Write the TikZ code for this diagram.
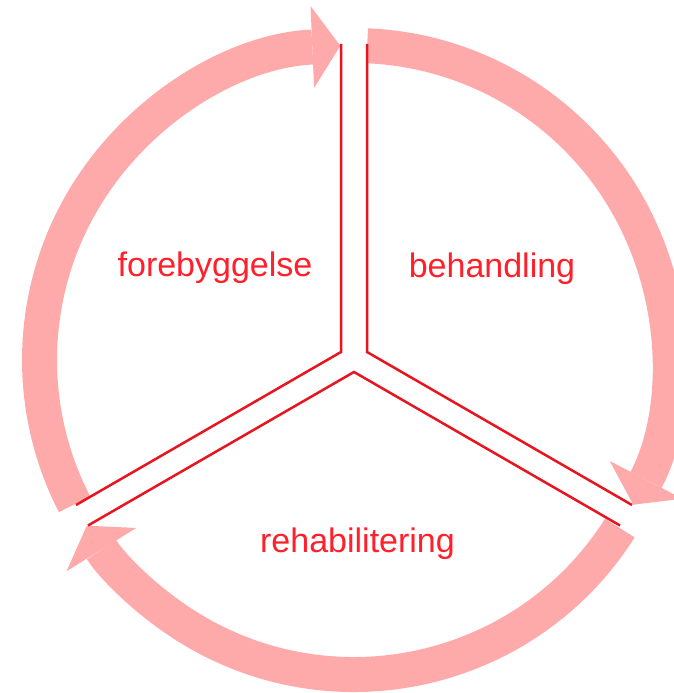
\documentclass[tikz,border=0pt]{standalone}
\usepackage{fontspec}
\setmainfont{Liberation Sans}
\usetikzlibrary{arrows.meta}
\definecolor{arcpink}{RGB}{255,170,170}
\definecolor{linered}{RGB}{232,20,32}
\definecolor{textred}{RGB}{255,32,44}
\tikzset{
  cyclearc/.style={draw=arcpink, line width=35pt, line cap=butt,
    -{Triangle[length=28pt,width=82pt,line width=0pt]}},
  sepline/.style={draw=linered, line width=2.5pt, line join=miter},
  phase/.style={text=textred, anchor=base, inner sep=0pt,
    font=\fontsize{34}{40}\selectfont}
}
\begin{document}
\begin{tikzpicture}[x=1pt,y=1pt]
\useasboundingbox (0,0) rectangle (674,693);
\coordinate (O) at (354,333);
% separator lines
\coordinate (la) at (341,649);
\coordinate (lb) at (341,341);
\coordinate (lc) at (76,188);
\coordinate (ra) at (367,649);
\coordinate (rb) at (367,341);
\coordinate (rc) at (632,188);
\coordinate (va) at (88,167.5);
\coordinate (vb) at (354,321);
\coordinate (vc) at (620,167.5);
% arcs
\draw[cyclearc] (O) ++(207.3:314.5) arc[start angle=207.3, end angle=92.5, radius=314.5];
\draw[cyclearc] (O) ++(87.6:314.5) arc[start angle=87.6, end angle=-27.4, radius=314.5];
\draw[cyclearc] (O) ++(-32.3:314.5) arc[start angle=-32.3, end angle=-148.2, radius=314.5];
\draw[sepline] (la) -- (lb) -- (lc);
\draw[sepline] (ra) -- (rb) -- (rc);
\draw[sepline] (va) -- (vb) -- (vc);
% labels
\node[phase] (fore) at (215,416) {forebyggelse};
\node[phase] (beh) at (492,415) {behandling};
\node[phase] (reh) at (357.5,140) {rehabilitering};
\end{tikzpicture}
\end{document}
